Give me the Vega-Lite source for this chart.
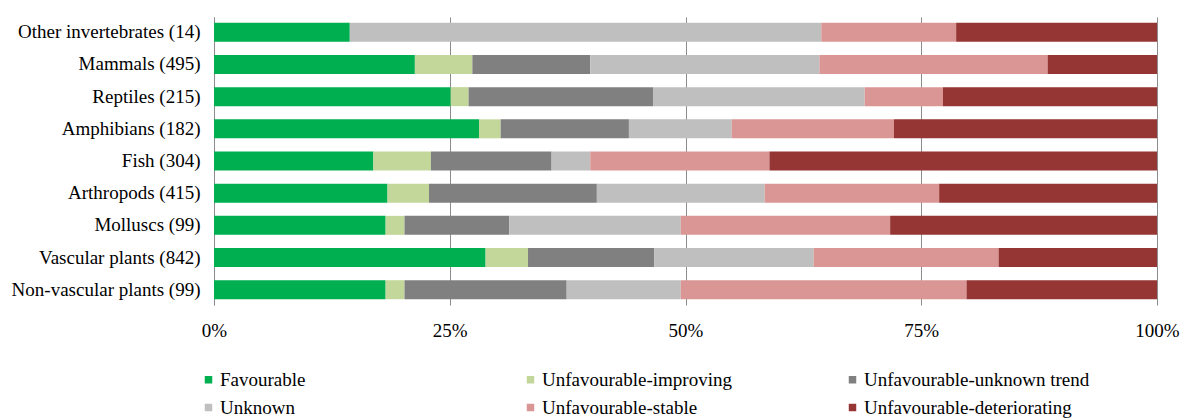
{
  "$schema": "https://vega.github.io/schema/vega-lite/v6.json",
  "width": 943,
  "height": 288,
  "autosize": {"type": "none"},
  "padding": {"left": 214, "top": 17, "right": 28, "bottom": 114},
  "config": {"view": {"stroke": null}, "font": "Liberation Serif"},
  "data": {
    "values": [
      {"group": "Other invertebrates (14)", "status": "Favourable", "k": 1, "value": 14.4},
      {"group": "Other invertebrates (14)", "status": "Unfavourable-improving", "k": 2, "value": 0},
      {"group": "Other invertebrates (14)", "status": "Unfavourable-unknown trend", "k": 3, "value": 0},
      {"group": "Other invertebrates (14)", "status": "Unknown", "k": 4, "value": 50.0},
      {"group": "Other invertebrates (14)", "status": "Unfavourable-stable", "k": 5, "value": 14.3},
      {"group": "Other invertebrates (14)", "status": "Unfavourable-deteriorating", "k": 6, "value": 21.3},
      {"group": "Mammals (495)", "status": "Favourable", "k": 1, "value": 21.3},
      {"group": "Mammals (495)", "status": "Unfavourable-improving", "k": 2, "value": 6.1},
      {"group": "Mammals (495)", "status": "Unfavourable-unknown trend", "k": 3, "value": 12.5},
      {"group": "Mammals (495)", "status": "Unknown", "k": 4, "value": 24.3},
      {"group": "Mammals (495)", "status": "Unfavourable-stable", "k": 5, "value": 24.2},
      {"group": "Mammals (495)", "status": "Unfavourable-deteriorating", "k": 6, "value": 11.6},
      {"group": "Reptiles (215)", "status": "Favourable", "k": 1, "value": 25.1},
      {"group": "Reptiles (215)", "status": "Unfavourable-improving", "k": 2, "value": 1.9},
      {"group": "Reptiles (215)", "status": "Unfavourable-unknown trend", "k": 3, "value": 19.6},
      {"group": "Reptiles (215)", "status": "Unknown", "k": 4, "value": 22.4},
      {"group": "Reptiles (215)", "status": "Unfavourable-stable", "k": 5, "value": 8.3},
      {"group": "Reptiles (215)", "status": "Unfavourable-deteriorating", "k": 6, "value": 22.7},
      {"group": "Amphibians (182)", "status": "Favourable", "k": 1, "value": 28.1},
      {"group": "Amphibians (182)", "status": "Unfavourable-improving", "k": 2, "value": 2.3},
      {"group": "Amphibians (182)", "status": "Unfavourable-unknown trend", "k": 3, "value": 13.6},
      {"group": "Amphibians (182)", "status": "Unknown", "k": 4, "value": 10.9},
      {"group": "Amphibians (182)", "status": "Unfavourable-stable", "k": 5, "value": 17.2},
      {"group": "Amphibians (182)", "status": "Unfavourable-deteriorating", "k": 6, "value": 27.9},
      {"group": "Fish (304)", "status": "Favourable", "k": 1, "value": 16.9},
      {"group": "Fish (304)", "status": "Unfavourable-improving", "k": 2, "value": 6.1},
      {"group": "Fish (304)", "status": "Unfavourable-unknown trend", "k": 3, "value": 12.8},
      {"group": "Fish (304)", "status": "Unknown", "k": 4, "value": 4.1},
      {"group": "Fish (304)", "status": "Unfavourable-stable", "k": 5, "value": 19.0},
      {"group": "Fish (304)", "status": "Unfavourable-deteriorating", "k": 6, "value": 41.1},
      {"group": "Arthropods (415)", "status": "Favourable", "k": 1, "value": 18.4},
      {"group": "Arthropods (415)", "status": "Unfavourable-improving", "k": 2, "value": 4.4},
      {"group": "Arthropods (415)", "status": "Unfavourable-unknown trend", "k": 3, "value": 17.8},
      {"group": "Arthropods (415)", "status": "Unknown", "k": 4, "value": 17.8},
      {"group": "Arthropods (415)", "status": "Unfavourable-stable", "k": 5, "value": 18.5},
      {"group": "Arthropods (415)", "status": "Unfavourable-deteriorating", "k": 6, "value": 23.1},
      {"group": "Molluscs (99)", "status": "Favourable", "k": 1, "value": 18.2},
      {"group": "Molluscs (99)", "status": "Unfavourable-improving", "k": 2, "value": 2.0},
      {"group": "Molluscs (99)", "status": "Unfavourable-unknown trend", "k": 3, "value": 11.1},
      {"group": "Molluscs (99)", "status": "Unknown", "k": 4, "value": 18.2},
      {"group": "Molluscs (99)", "status": "Unfavourable-stable", "k": 5, "value": 22.2},
      {"group": "Molluscs (99)", "status": "Unfavourable-deteriorating", "k": 6, "value": 28.3},
      {"group": "Vascular plants (842)", "status": "Favourable", "k": 1, "value": 28.8},
      {"group": "Vascular plants (842)", "status": "Unfavourable-improving", "k": 2, "value": 4.5},
      {"group": "Vascular plants (842)", "status": "Unfavourable-unknown trend", "k": 3, "value": 13.4},
      {"group": "Vascular plants (842)", "status": "Unknown", "k": 4, "value": 16.9},
      {"group": "Vascular plants (842)", "status": "Unfavourable-stable", "k": 5, "value": 19.6},
      {"group": "Vascular plants (842)", "status": "Unfavourable-deteriorating", "k": 6, "value": 16.8},
      {"group": "Non-vascular plants (99)", "status": "Favourable", "k": 1, "value": 18.2},
      {"group": "Non-vascular plants (99)", "status": "Unfavourable-improving", "k": 2, "value": 2.0},
      {"group": "Non-vascular plants (99)", "status": "Unfavourable-unknown trend", "k": 3, "value": 17.2},
      {"group": "Non-vascular plants (99)", "status": "Unknown", "k": 4, "value": 12.1},
      {"group": "Non-vascular plants (99)", "status": "Unfavourable-stable", "k": 5, "value": 30.3},
      {"group": "Non-vascular plants (99)", "status": "Unfavourable-deteriorating", "k": 6, "value": 20.2}
    ]
  },
  "mark": {"type": "bar"},
  "encoding": {
    "y": {
      "field": "group",
      "type": "nominal",
      "sort": ["Other invertebrates (14)", "Mammals (495)", "Reptiles (215)", "Amphibians (182)", "Fish (304)", "Arthropods (415)", "Molluscs (99)", "Vascular plants (842)", "Non-vascular plants (99)"],
      "scale": {"paddingInner": 0.41, "paddingOuter": 0.18},
      "axis": {
        "title": null,
        "labelFont": "Liberation Serif",
        "labelFontSize": 19,
        "labelColor": "#000000",
        "labelLimit": 300,
        "ticks": false,
        "labelPadding": 14,
        "domainColor": "#8c8c8c",
        "grid": false
      }
    },
    "x": {
      "field": "value",
      "type": "quantitative",
      "stack": "normalize",
      "scale": {"domain": [0, 1]},
      "axis": {
        "title": null,
        "format": "%",
        "values": [0, 0.25, 0.5, 0.75, 1],
        "domain": false,
        "ticks": false,
        "grid": true,
        "gridColor": "#8c8c8c",
        "gridOpacity": 1,
        "labelFlush": false,
        "labelFont": "Liberation Serif",
        "labelFontSize": 19,
        "labelColor": "#000000",
        "labelPadding": 16
      }
    },
    "color": {
      "field": "status",
      "type": "nominal",
      "scale": {
        "domain": ["Favourable", "Unfavourable-improving", "Unfavourable-unknown trend", "Unknown", "Unfavourable-stable", "Unfavourable-deteriorating"],
        "range": ["#00B050", "#C4D79B", "#808080", "#BFBFBF", "#DA9694", "#963634"]
      },
      "legend": {
        "title": null,
        "orient": "none",
        "direction": "horizontal",
        "legendX": -15,
        "legendY": 353,
        "columns": 3,
        "gridAlign": "all",
        "columnPadding": 75,
        "rowPadding": 8,
        "padding": 0,
        "symbolType": "square",
        "symbolSize": 56,
        "symbolStrokeWidth": 0,
        "labelOffset": 2,
        "labelFont": "Liberation Serif",
        "labelFontSize": 19,
        "labelColor": "#000000",
        "labelLimit": 400
      }
    },
    "order": {"field": "k", "type": "quantitative"}
  }
}
